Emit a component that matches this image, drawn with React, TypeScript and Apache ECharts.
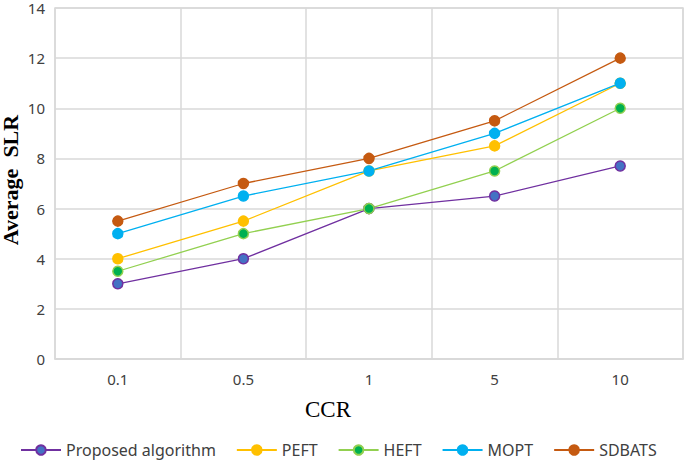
import React, { useEffect, useRef } from "react";
import * as echarts from "echarts";

const categories = ["0.1", "0.5", "1", "5", "10"];
const proposed = [3, 4, 6, 6.5, 7.7];
const peft = [4, 5.5, 7.5, 8.5, 11];
const heft = [3.5, 5, 6, 7.5, 10];
const mopt = [5, 6.5, 7.5, 9, 11];
const sdbats = [5.5, 7, 8, 9.5, 12];

const mk = (name: string, data: number[], line: string, fill: string, border: string) => ({
  name,
  type: "line",
  data,
  symbol: "circle",
  symbolSize: 10,
  lineStyle: { color: line, width: 1.3 },
  itemStyle: { color: fill, borderColor: border, borderWidth: 1.5 },
  emphasis: { disabled: true },
});

export default function App() {
  const ref = useRef<HTMLDivElement>(null);
  useEffect(() => {
    document.body.style.margin = "0";
    const chart = echarts.init(ref.current!, null, { renderer: "svg" });
    chart.setOption({
      animation: false,
      backgroundColor: "#ffffff",
      grid: {
        left: 55,
        right: 2,
        top: 8,
        bottom: 101,
        containLabel: false,
        outerBoundsMode: "none",
        show: true,
        borderColor: "#d9d9d9",
        borderWidth: 1.5,
      },
      xAxis: {
        type: "category",
        data: categories,
        boundaryGap: true,
        axisLine: { show: true, lineStyle: { color: "#d9d9d9", width: 1.5 } },
        axisTick: { show: false },
        splitLine: { show: true, lineStyle: { color: "#d9d9d9", width: 1.5 } },
        axisLabel: { color: "#404040", fontSize: 15, fontFamily: "Noto Sans", margin: 12 },
      },
      yAxis: {
        type: "value",
        min: 0,
        max: 14,
        interval: 2,
        axisLine: { show: false },
        axisTick: { show: false },
        splitLine: { show: true, lineStyle: { color: "#d9d9d9", width: 1.5 } },
        axisLabel: { color: "#404040", fontSize: 15, fontFamily: "Noto Sans", margin: 10 },
      },
      legend: {
        top: 437,
        left: 15,
        itemWidth: 40,
        itemHeight: 12,
        itemGap: 20,
        textStyle: { fontFamily: "Noto Sans", fontSize: 16, color: "#404040" },
        data: ["Proposed algorithm", "PEFT", "HEFT", "MOPT", "SDBATS"],
      },
      graphic: [
        {
          type: "text",
          left: 305,
          top: 398,
          style: { text: "CCR", fontFamily: "Liberation Serif", fontSize: 23, fill: "#000" },
        },
        {
          type: "text",
          x: 10,
          y: 180,
          rotation: Math.PI / 2,
          style: {
            text: "Average  SLR",
            fontFamily: "Liberation Serif",
            fontWeight: "bold",
            fontSize: 22,
            fill: "#000",
            align: "center",
            verticalAlign: "middle",
          },
        },
      ],
      series: [
        mk("Proposed algorithm", proposed, "#7030A0", "#4472C4", "#7030A0"),
        mk("PEFT", peft, "#FFC000", "#FFC000", "#FFC000"),
        mk("HEFT", heft, "#92D050", "#00B050", "#92D050"),
        mk("MOPT", mopt, "#00B0F0", "#00B0F0", "#00B0F0"),
        mk("SDBATS", sdbats, "#C55A11", "#C55A11", "#C55A11"),
      ],
    });
    return () => chart.dispose();
  }, []);
  return <div ref={ref} style={{ width: 685, height: 460 }} />;
}
